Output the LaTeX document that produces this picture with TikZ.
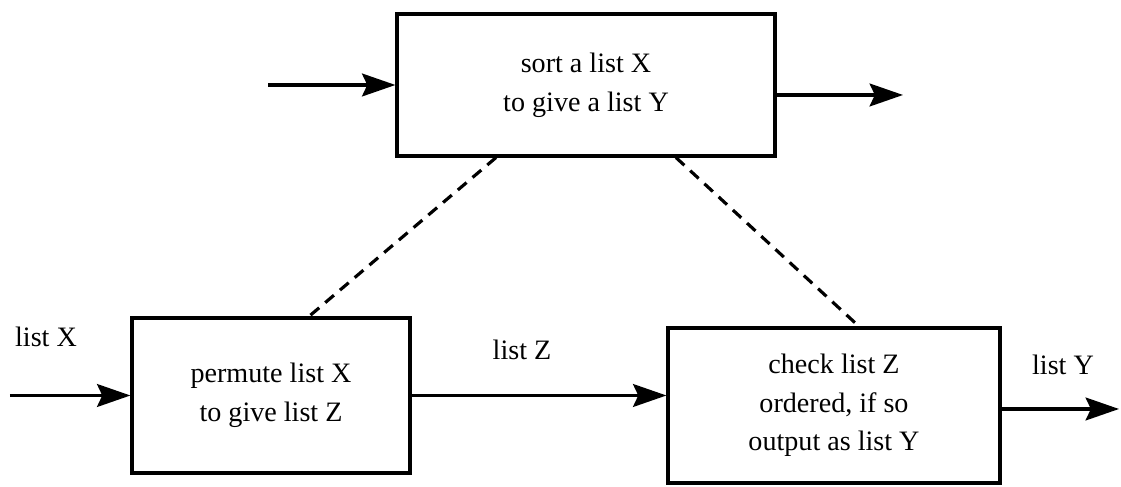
\documentclass[tikz,border=0pt]{standalone}
\usepackage{fontspec}
\setmainfont{Liberation Serif}
\usetikzlibrary{arrows.meta,positioning}

\begin{document}
\begin{tikzpicture}[
    task/.style={draw=black, line width=1.8pt, minimum width=#1, minimum height=3.1cm, align=center, font=\fontsize{16}{22}\selectfont},
    task/.default=5.56cm,
    lbl/.style={font=\fontsize{16}{22}\selectfont},
    arr/.style={-{Stealth[length=19pt, width=13pt, inset=3pt]}, line width=1.8pt},
    refine/.style={line width=1.8pt, dash pattern=on 6.5pt off 4.5pt},
]
\useasboundingbox (0,0) rectangle (22.42,9.74);

% Task boxes
\node[task=7.56cm, minimum height=2.84cm] (sort) at (11.72,8.04) {sort a list X\\to give a list Y};
\node[task] (permute) at (5.42,1.83) {permute list X\\to give list Z};
\node[task=6.64cm] (check) at (16.68,1.63) {check list Z\\ordered, if so\\output as list Y};

% Labels
\node[lbl] (lx) at (0.92,3.00) {list X};
\node[lbl] (lz) at (10.44,2.74) {list Z};
\node[lbl] (ly) at (21.26,2.44) {list Y};

% Free ends
\coordinate (sortin) at (5.36,8.04);
\coordinate (sortout) at (18.06,7.84);
\coordinate (xin) at (0.2,1.83);
\coordinate (yout) at (22.38,1.56);

% Flows
\draw[arr] (sortin) -- (sort.west);
\draw[arr] (sort.east |- sortout) -- (sortout);
\draw[arr] (xin) -- (permute.west);
\draw[arr] (permute.east) -- (permute.east -| check.west);
\draw[arr] (check.east |- yout) -- (yout);

% Refinement links
\draw[refine] ([xshift=-1.8cm]sort.south) -- ([xshift=0.76cm]permute.north);
\draw[refine] ([xshift=1.8cm]sort.south) -- ([xshift=0.5cm]check.north);

\end{tikzpicture}
\end{document}
